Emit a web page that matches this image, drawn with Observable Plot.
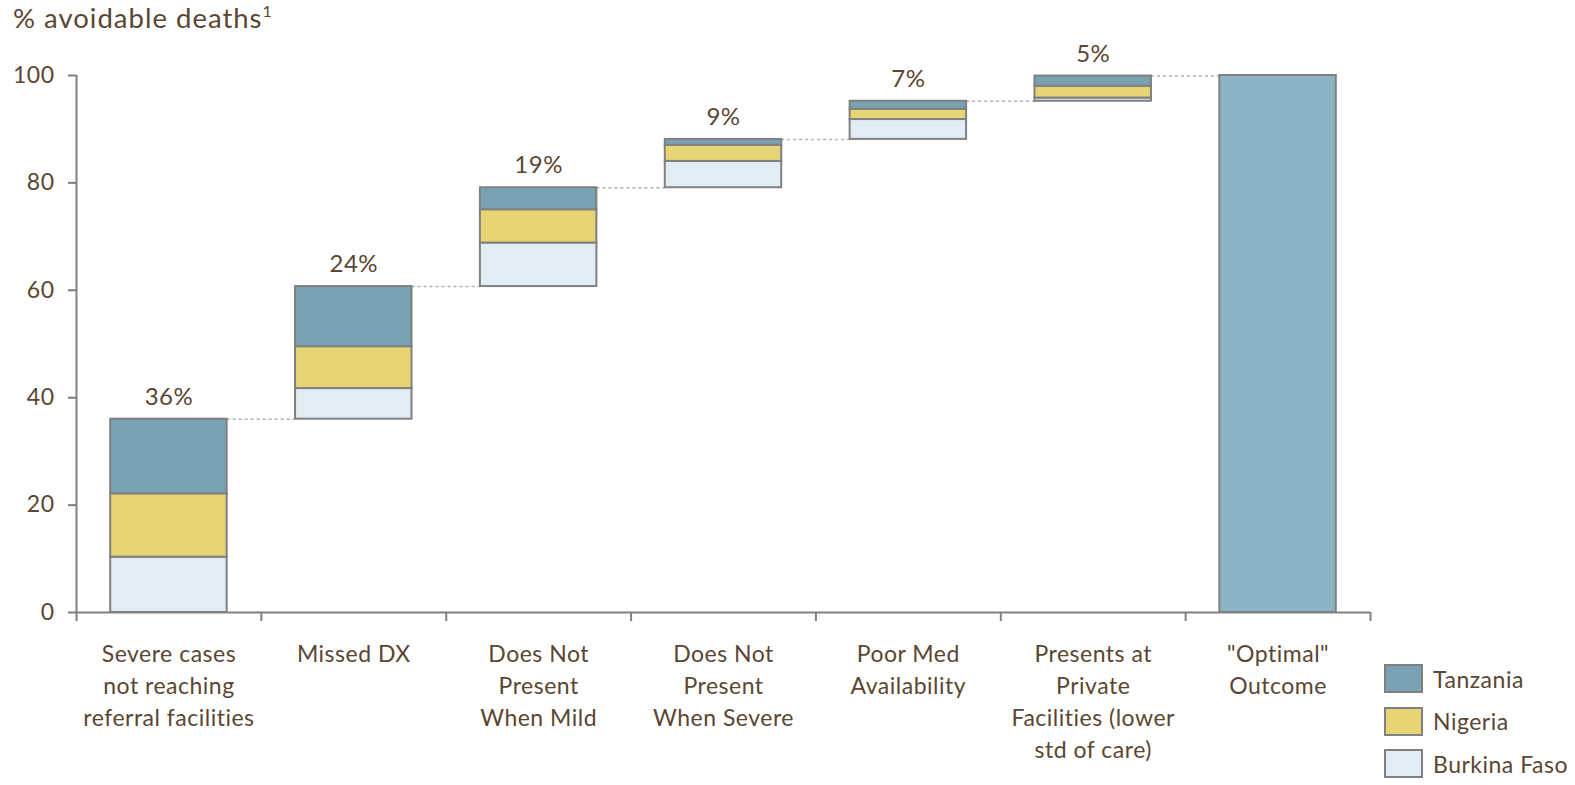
<!DOCTYPE html>
<html>
<head>
<meta charset="utf-8">
<script src="https://cdn.jsdelivr.net/npm/d3@7"></script>
<script src="https://cdn.jsdelivr.net/npm/@observablehq/plot@0.6"></script>
<style>
  html, body { margin: 0; padding: 0; background: #fff; }
  body { width: 1575px; height: 785px; position: relative; overflow: hidden; font-family: Lato, "Open Sans", sans-serif; color: #5a4632; }
  #title { position: absolute; left: 13px; top: 1px; font-size: 27.5px; letter-spacing: 1px; white-space: nowrap; }
  #title sup { font-size: 16px; vertical-align: 11px; letter-spacing: 0; }
  #chart { position: absolute; left: 0; top: 0; }
  #chart svg { letter-spacing: 0.5px; }
  #legend { position: absolute; left: 1384px; top: 664px; font-size: 23px; letter-spacing: 0.5px; white-space: nowrap; }
  .item { display: flex; align-items: center; height: 29px; margin-bottom: 13.5px; }
  .sw { width: 35px; height: 25px; border: 2px solid #808080; margin-right: 10px; box-sizing: content-box; flex: none; }
</style>
</head>
<body>
<div id="title">% avoidable deaths<sup>1</sup></div>
<div id="chart"></div>
<div id="legend"></div>
<script>
const categories = [
  "Severe cases\nnot reaching\nreferral facilities",
  "Missed DX",
  "Does Not\nPresent\nWhen Mild",
  "Does Not\nPresent\nWhen Severe",
  "Poor Med\nAvailability",
  "Presents at\nPrivate\nFacilities (lower\nstd of care)",
  "\"Optimal\"\nOutcome"
];
const labels = ["36%", "24%", "19%", "9%", "7%", "5%", ""];
const burkinaFaso = [10.3, 5.7, 8.1, 4.9, 3.7, 0.6];
const nigeria     = [11.8, 7.8, 6.2, 3.0, 1.9, 2.2];
const tanzania    = [13.9, 11.2, 4.1, 1.1, 1.5, 1.9];
const optimal = 100;
const series = ["Tanzania", "Nigeria", "Burkina Faso"];
const colors = {"Tanzania": "#79a2b2", "Nigeria": "#e7d475", "Burkina Faso": "#e2edf3", "Optimal": "#8db4c5"};
const yTicks = [0, 20, 40, 60, 80, 100];

// build stacked waterfall segments
const segs = [];
const tops = [];
let base = 0;
for (let i = 0; i < burkinaFaso.length; i++) {
  let y = base;
  for (const [name, arr] of [["Burkina Faso", burkinaFaso], ["Nigeria", nigeria], ["Tanzania", tanzania]]) {
    segs.push({i, name, y1: y, y2: y + arr[i]});
    y += arr[i];
  }
  tops.push({i, top: y, label: labels[i]});
  base = y;
}
segs.push({i: 6, name: "Optimal", y1: 0, y2: optimal});
tops.push({i: 6, top: optimal, label: labels[6]});

const pad = 0.185;
const connectors = tops.slice(0, -1).map(d => ({x1: d.i + 1 - pad, x2: d.i + 1 + pad, y: d.top}));
const catData = categories.map((c, i) => ({i, c}));

const gray = "#808080";
const brown = "#5a4632";

const chart = Plot.plot({
  width: 1575,
  height: 785,
  marginLeft: 76,
  marginRight: 205,
  marginTop: 75,
  marginBottom: 173,
  style: {fontFamily: "Lato, 'Open Sans', sans-serif", background: "transparent"},
  x: {domain: [0, 7], axis: null},
  y: {domain: [0, 100], axis: null},
  marks: [
    Plot.ruleY(connectors, {x1: "x1", x2: "x2", y: "y", stroke: "#b0b0b0", strokeWidth: 1.5, strokeDasharray: "3,3"}),
    Plot.rect(segs, {
      x1: d => d.i + pad, x2: d => d.i + 1 - pad, y1: "y1", y2: "y2",
      fill: d => colors[d.name], stroke: gray, strokeWidth: 2
    }),
    Plot.text(tops, {x: d => d.i + 0.5, y: "top", text: "label", dy: -22, fontSize: 24, fill: brown}),
    Plot.axisY({ticks: yTicks, tickSize: 8, tickPadding: 14, stroke: gray, strokeWidth: 2, fill: brown, fontSize: 23}),
    Plot.axisX({ticks: d3.range(8), tickSize: 9, tickFormat: () => "", stroke: gray, strokeWidth: 2}),
    Plot.ruleX([0], {y1: 0, y2: 100, stroke: gray, strokeWidth: 2}),
    Plot.ruleY([0], {x1: 0, x2: 7, stroke: gray, strokeWidth: 2}),
    Plot.text(catData, {x: d => d.i + 0.5, y: 0, text: "c", dy: 27, lineAnchor: "top", lineHeight: 1.39, fontSize: 23, fill: brown})
  ]
});
document.getElementById("chart").appendChild(chart);

const legend = document.getElementById("legend");
for (const s of series) {
  const item = document.createElement("div");
  item.className = "item";
  const sw = document.createElement("div");
  sw.className = "sw";
  sw.style.background = colors[s];
  const t = document.createElement("span");
  t.textContent = s;
  item.appendChild(sw);
  item.appendChild(t);
  legend.appendChild(item);
}
</script>
</body>
</html>
